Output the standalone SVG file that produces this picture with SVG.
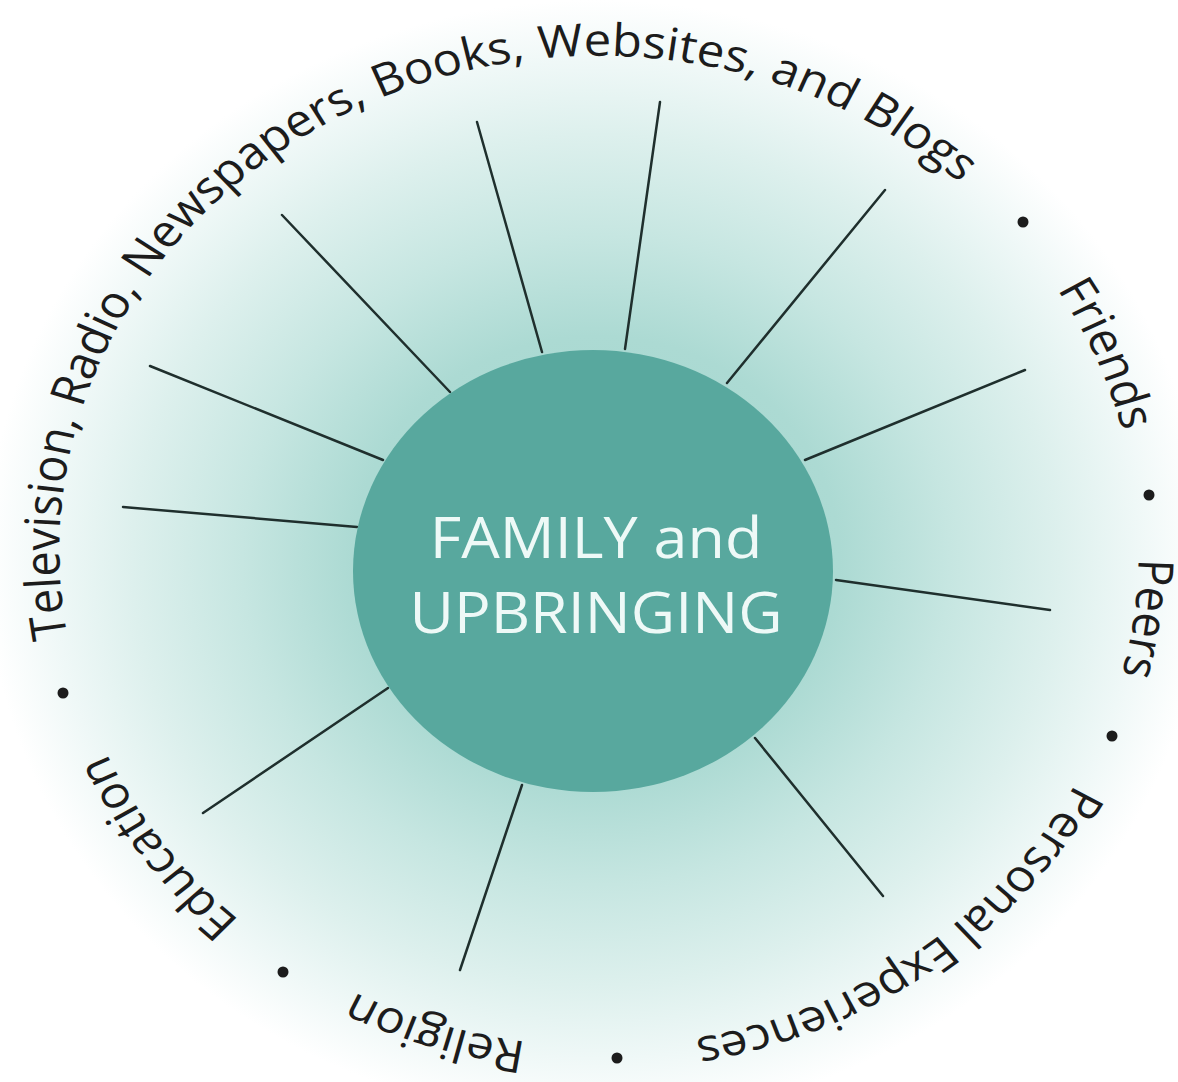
<svg xmlns="http://www.w3.org/2000/svg" width="1178" height="1082" viewBox="0 0 1178 1082">
<defs>
  <radialGradient id="bg" gradientUnits="userSpaceOnUse" cx="0" cy="0" r="1" gradientTransform="translate(596 560) scale(610 560)">
    <stop offset="0" stop-color="#9fd4cc"/>
    <stop offset="0.40" stop-color="#acdad3"/>
    <stop offset="0.58" stop-color="#c6e6e1"/>
    <stop offset="0.76" stop-color="#ddf0ed"/>
    <stop offset="0.89" stop-color="#eff8f7"/>
    <stop offset="1" stop-color="#ffffff"/>
  </radialGradient>
  <path id="ring" d="M -470.8 153.0 A 495 495 0 1 1 470.8 -153.0 A 495 495 0 1 1 -470.8 153.0"/>
</defs>
<style>
  .ring { font-family: "Open Sans", "Noto Sans", sans-serif; font-size: 45px; fill: #1c1c1c; text-anchor: middle; }
  .hub { fill: #58a89e; }
  .hubtext { font-family: "Open Sans", "Noto Sans", sans-serif; font-size: 56px; fill: #eef9f7; text-anchor: middle; }
  .spoke { stroke: #1f2f2d; stroke-width: 2.5; stroke-linecap: round; fill: none; }
  .dot { fill: #1c1c1c; }
</style>
<rect width="1178" height="1082" fill="#ffffff"/>
<rect width="1178" height="1082" fill="url(#bg)"/>

<g id="connectors">
  <line class="spoke" x1="123" y1="507" x2="357" y2="527"/>
  <line class="spoke" x1="150" y1="366" x2="383" y2="460"/>
  <line class="spoke" x1="282" y1="215" x2="450" y2="392"/>
  <line class="spoke" x1="477" y1="122" x2="542" y2="352"/>
  <line class="spoke" x1="660" y1="102" x2="625" y2="349"/>
  <line class="spoke" x1="885" y1="190" x2="727" y2="383"/>
  <line class="spoke" x1="1025" y1="370" x2="805" y2="460"/>
  <line class="spoke" x1="1050" y1="610" x2="836" y2="580"/>
  <line class="spoke" x1="883" y1="896" x2="755" y2="738"/>
  <line class="spoke" x1="460" y1="970" x2="522" y2="785"/>
  <line class="spoke" x1="203" y1="813" x2="388" y2="688"/>
</g>

<g id="family-upbringing">
  <ellipse class="hub" cx="593" cy="571" rx="240" ry="221"/>
  <g transform="translate(596 0) scale(1.09 1)">
    <text class="hubtext" x="0" y="558">FAMILY and</text>
    <text class="hubtext" x="0" y="633">UPBRINGING</text>
  </g>
</g>

<g id="ring-labels" transform="translate(599 551) scale(1.09 1)">
  <g id="media"><text class="ring"><textPath href="#ring" startOffset="682.5">Television, Radio, Newspapers, Books, Websites, and Blogs</textPath></text></g>
  <g id="friends"><text class="ring"><textPath href="#ring" startOffset="1512.7">Friends</textPath></text></g>
  <g id="peers"><text class="ring"><textPath href="#ring" startOffset="1777.1">Peers</textPath></text></g>
  <g id="personal-experiences"><text class="ring"><textPath href="#ring" startOffset="2177.1">Personal Experiences</textPath></text></g>
  <g id="religion"><text class="ring"><textPath href="#ring" startOffset="2638.4">Religion</textPath></text></g>
  <g id="education"><text class="ring"><textPath href="#ring" startOffset="2953.3">Education</textPath></text></g>
</g>

<g id="separators">
  <circle class="dot" cx="63" cy="693" r="5.5"/>
  <circle class="dot" cx="1023" cy="222" r="5.5"/>
  <circle class="dot" cx="1149" cy="495" r="5.5"/>
  <circle class="dot" cx="1112" cy="736" r="5.5"/>
  <circle class="dot" cx="617" cy="1058" r="5.5"/>
  <circle class="dot" cx="283" cy="972" r="5.5"/>
</g>
</svg>
